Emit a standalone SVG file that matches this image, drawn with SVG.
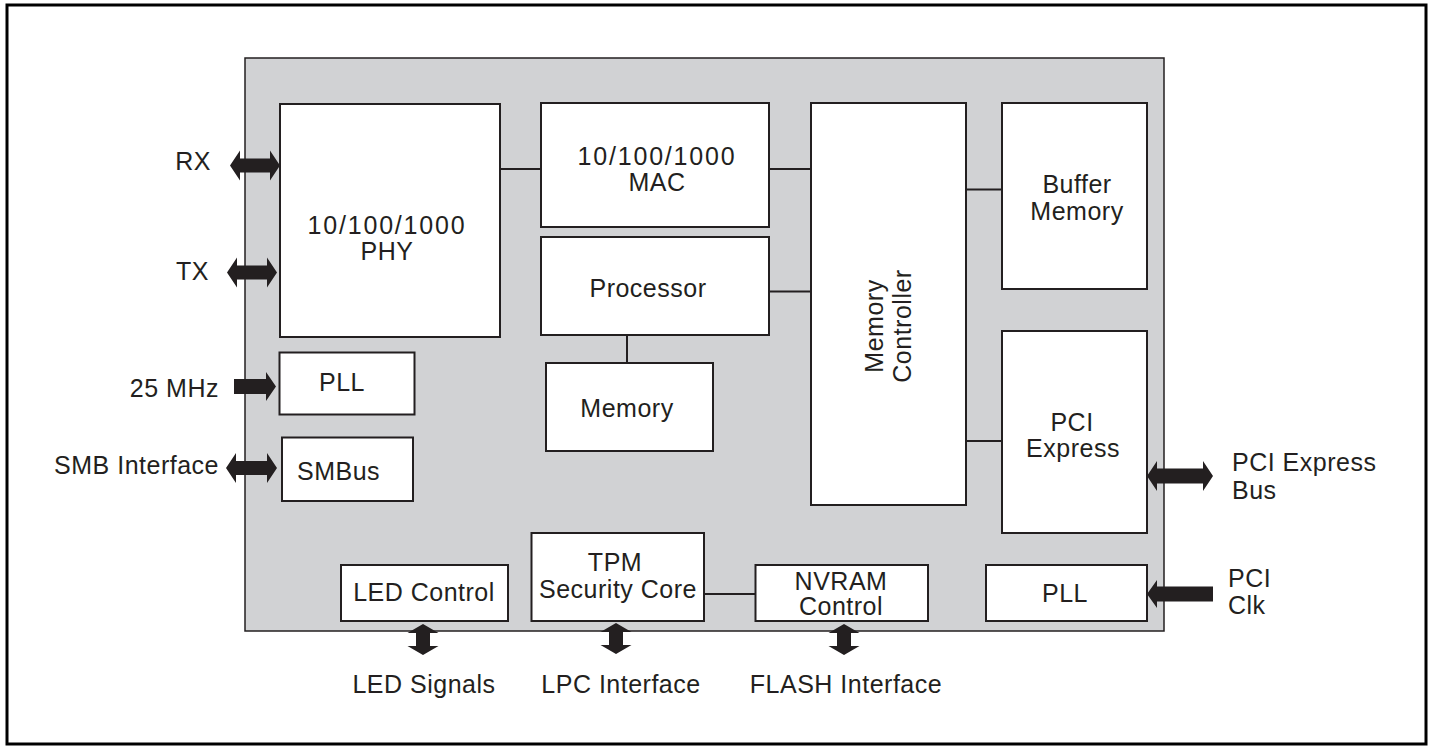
<svg xmlns="http://www.w3.org/2000/svg" width="1433" height="750" viewBox="0 0 1433 750">
<style>
.bx{fill:#fff;stroke:#231f20;stroke-width:2}
.t{font-family:"Liberation Sans",Arial,sans-serif;font-size:25px;fill:#231f20;letter-spacing:0.5px}
.m{text-anchor:middle}
.e{text-anchor:end}
.d{letter-spacing:1.8px}
.ln{stroke:#231f20;stroke-width:2;fill:none}
.ar{fill:#231f20}
</style>
<rect x="0" y="0" width="1433" height="750" fill="#fff"/>
<rect id="frame" x="7" y="5" width="1419" height="739" fill="#fff" stroke="#000" stroke-width="3"/>
<rect id="chip" x="245" y="58" width="919" height="573" fill="#d1d2d4" stroke="#231f20" stroke-width="1.5"/>

<g id="connectors">
<line class="ln" x1="500" y1="169" x2="541" y2="169"/>
<line class="ln" x1="769" y1="169" x2="811" y2="169"/>
<line class="ln" x1="769" y1="291.5" x2="811" y2="291.5"/>
<line class="ln" x1="627" y1="335" x2="627" y2="363"/>
<line class="ln" x1="966" y1="189.5" x2="1002" y2="189.5"/>
<line class="ln" x1="966" y1="441" x2="1002" y2="441"/>
<line class="ln" x1="704" y1="594" x2="755.5" y2="594"/>
<polygon class="ar" points="230,165.5 240,150.5 240,158.5 270,158.5 270,150.5 280,165.5 270,180.5 270,172.5 240,172.5 240,180.5"/>
<polygon class="ar" points="227,272.5 237,257.5 237,265.5 267,265.5 267,257.5 277,272.5 267,287.5 267,279.5 237,279.5 237,287.5"/>
<polygon class="ar" points="234,379 266,379 266,372 276,386.5 266,401 266,394 234,394"/>
<polygon class="ar" points="226,468 236,453 236,461 267,461 267,453 277,468 267,483 267,475 236,475 236,483"/>
<polygon class="ar" points="1147,476 1157,461 1157,468.5 1203,468.5 1203,461 1213,476 1203,491 1203,483.5 1157,483.5 1157,491"/>
<polygon class="ar" points="1147,594 1157,580 1157,586.5 1213,586.5 1213,601.5 1157,601.5 1157,608"/>
<polygon class="ar" points="423,624 438.5,633 430,633 430,646 438.5,646 423,655 407.5,646 416,646 416,633 407.5,633"/>
<polygon class="ar" points="616,623 631.5,632 623,632 623,645 631.5,645 616,654 600.5,645 609,645 609,632 600.5,632"/>
<polygon class="ar" points="844,624 859.5,633 851,633 851,646 859.5,646 844,655 828.5,646 837,646 837,633 828.5,633"/>
</g>

<g id="phy"><rect class="bx" x="280" y="104" width="220" height="233"/>
<text class="t m d" x="387" y="234">10/100/1000</text><text class="t m" x="387" y="260">PHY</text></g>
<g id="mac"><rect class="bx" x="541" y="103" width="228" height="124"/>
<text class="t m d" x="657" y="165">10/100/1000</text><text class="t m" x="657" y="191">MAC</text></g>
<g id="processor"><rect class="bx" x="541" y="237" width="228" height="98"/>
<text class="t m" x="648" y="297">Processor</text></g>
<g id="memory"><rect class="bx" x="546" y="363" width="167" height="88"/>
<text class="t m" x="627" y="417">Memory</text></g>
<g id="memctrl"><rect class="bx" x="811" y="103" width="155" height="402"/>
<g transform="translate(883,326) rotate(-90)"><text class="t m" x="0" y="0">Memory</text><text class="t m" x="0" y="28">Controller</text></g></g>
<g id="buffer"><rect class="bx" x="1002" y="103" width="145" height="186"/>
<text class="t m" x="1077" y="193">Buffer</text><text class="t m" x="1077" y="219.5">Memory</text></g>
<g id="pcie"><rect class="bx" x="1002" y="331" width="145" height="202"/>
<text class="t m" x="1072" y="431">PCI</text><text class="t m" x="1073" y="457">Express</text></g>
<g id="pll2"><rect class="bx" x="986" y="565" width="161" height="56"/>
<text class="t m" x="1065" y="602">PLL</text></g>
<g id="pll1"><rect class="bx" x="279.5" y="352.5" width="135" height="62"/>
<text class="t" x="319" y="391">PLL</text></g>
<g id="smbus"><rect class="bx" x="282" y="437.5" width="131" height="63.5"/>
<text class="t" x="297" y="480">SMBus</text></g>
<g id="led"><rect class="bx" x="341" y="565" width="167" height="56"/>
<text class="t m" x="424" y="601">LED Control</text></g>
<g id="tpm"><rect class="bx" x="531.5" y="533" width="172.5" height="88"/>
<text class="t m" x="615" y="571">TPM</text><text class="t m" x="618" y="597.5">Security Core</text></g>
<g id="nvram"><rect class="bx" x="755.5" y="565" width="172.5" height="56"/>
<text class="t m" x="841" y="589.5">NVRAM</text><text class="t m" x="841" y="615">Control</text></g>

<g id="labels">
<text class="t e" x="211" y="170">RX</text>
<text class="t e" x="209" y="280">TX</text>
<text class="t e" x="219" y="397">25 MHz</text>
<text class="t e" x="219" y="474">SMB Interface</text>
<text class="t" x="1232" y="471">PCI Express</text>
<text class="t" x="1232" y="498.5">Bus</text>
<text class="t" x="1228" y="587">PCI</text>
<text class="t" x="1228" y="614">Clk</text>
<text class="t m" x="424" y="693">LED Signals</text>
<text class="t m" x="621" y="693">LPC Interface</text>
<text class="t m" x="846" y="693">FLASH Interface</text>
</g>
</svg>
